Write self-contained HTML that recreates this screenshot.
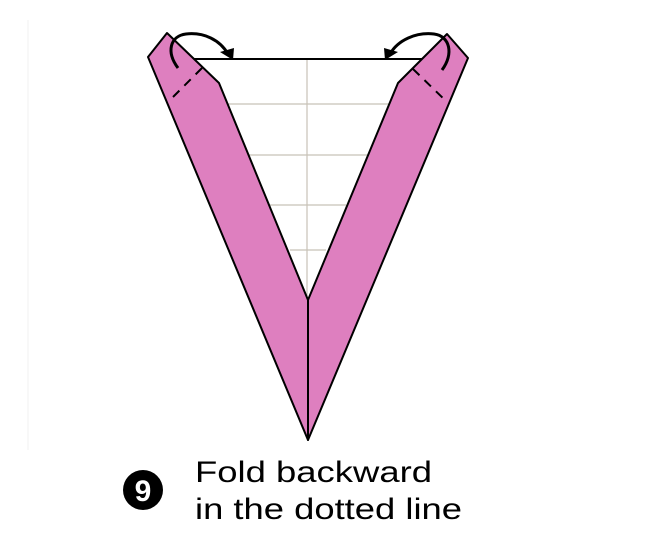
<!DOCTYPE html>
<html><head><meta charset="utf-8"><style>
body{margin:0;background:#fff;width:647px;height:555px;overflow:hidden;font-family:"Liberation Sans",sans-serif}
svg{position:absolute;left:0;top:0}
</style></head><body>
<svg width="647" height="555" viewBox="0 0 647 555">
<line x1="28" y1="20" x2="28" y2="450" stroke="#f0f0f0" stroke-width="1"/>
<g stroke="#c8c2b8" stroke-width="1.2">
<line x1="307" y1="59" x2="307" y2="300"/>
<line x1="228" y1="104" x2="390" y2="104"/>
<line x1="249" y1="155" x2="368" y2="155"/>
<line x1="270" y1="205" x2="346" y2="205"/>
<line x1="290" y1="250" x2="326" y2="250"/>
</g>
<line x1="193" y1="59" x2="424" y2="59" stroke="#000" stroke-width="2"/>
<polygon points="148,57 167,33 219,83 308,300 308,440" fill="#de7fbf" stroke="#000" stroke-width="2" stroke-linejoin="round"/>
<polygon points="468,58 447,34 398,83 308,300 308,440" fill="#de7fbf" stroke="#000" stroke-width="2" stroke-linejoin="round"/>
<line x1="202" y1="68" x2="170" y2="100" stroke="#000" stroke-width="2" stroke-dasharray="9,7"/>
<line x1="413" y1="69" x2="447" y2="102" stroke="#000" stroke-width="2" stroke-dasharray="9,7"/>
<path d="M178,68 C166,52 170,36 186,34 C204,32 220,40 228,54" fill="none" stroke="#000" stroke-width="3"/>
<polygon points="220,52 234,48 233,60" fill="#000"/>
<path d="M442,70 C454,54 450,36 434,34 C416,32 398,40 390,54" fill="none" stroke="#000" stroke-width="3"/>
<polygon points="398,52 384,48 385,60" fill="#000"/>
<circle cx="143" cy="490" r="20" fill="#000"/>
<text x="143" y="501" font-size="30" font-weight="bold" fill="#fff" text-anchor="middle" font-family="Liberation Sans, sans-serif">9</text>
<text x="195" y="482" font-size="30" fill="#000" textLength="237" lengthAdjust="spacingAndGlyphs" font-family="Liberation Sans, sans-serif">Fold backward</text>
<text x="195" y="519" font-size="30" fill="#000" textLength="267" lengthAdjust="spacingAndGlyphs" font-family="Liberation Sans, sans-serif">in the dotted line</text>
</svg>
</body></html>
